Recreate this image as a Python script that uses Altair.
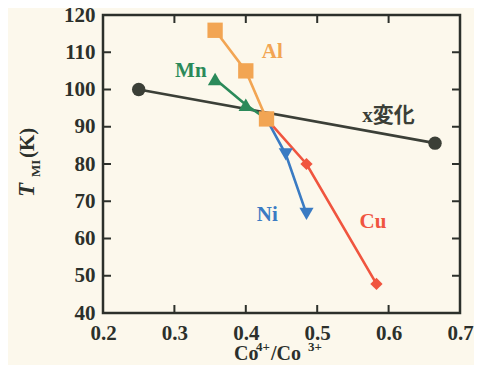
import altair as alt
import pandas as pd

# ---- data ----
series = ["x変化", "Mn", "Ni", "Cu", "Al"]
colors = ["#3b3f37", "#2b8a5a", "#3a7bc3", "#f0553f", "#f2a553"]
shapes = ["circle", "triangle-up", "triangle-down", "diamond", "square"]
sizes = [180, 210, 200, 150, 235]

x_xvar = [0.25, 0.665]
y_xvar = [100.0, 85.6]
x_mn = [0.357, 0.400, 0.429]
y_mn = [102.8, 95.9, 92.1]
x_ni = [0.429, 0.456, 0.485]
y_ni = [92.1, 82.6, 66.6]
x_cu = [0.429, 0.485, 0.583]
y_cu = [92.1, 80.0, 47.8]
x_al = [0.357, 0.400, 0.429]
y_al = [115.9, 105.0, 92.1]

label_text = ["x変化", "Mn", "Ni", "Cu", "Al"]
label_x = [0.600, 0.323, 0.430, 0.578, 0.437]
label_y = [93.0, 105.0, 66.4, 64.5, 110.0]

x_ticks = [0.2, 0.3, 0.4, 0.5, 0.6, 0.7]
y_ticks = [40, 50, 60, 70, 80, 90, 100, 110, 120]
x_inner_ticks = [0.3, 0.4, 0.5, 0.6]
y_inner_ticks = [50, 60, 70, 80, 90, 100, 110]

W, H = 357, 298
BG = "#fcf8ec"
INK = "#2c302b"
FONT = "Liberation Serif"

xs = {"x変化": x_xvar, "Mn": x_mn, "Ni": x_ni, "Cu": x_cu, "Al": x_al}
ys = {"x変化": y_xvar, "Mn": y_mn, "Ni": y_ni, "Cu": y_cu, "Al": y_al}

x_scale = alt.Scale(domain=[0.2, 0.7], nice=False, zero=False)
y_scale = alt.Scale(domain=[40, 120], nice=False, zero=False)

x_axis = alt.Axis(values=x_ticks, format=".1f", title=None, grid=False, domain=False,
                  ticks=False, labelFont=FONT, labelFontWeight="bold", labelFontSize=21,
                  labelColor=INK, labelPadding=9, labelFlush=False, labelOverlap=False)
y_axis = alt.Axis(values=y_ticks, format="d", title=None, grid=False, domain=False,
                  ticks=False, labelFont=FONT, labelFontWeight="bold", labelFontSize=21,
                  labelColor=INK, labelPadding=8, labelFlush=False, labelOverlap=False)


def X(field="x"):
    return alt.X(f"{field}:Q", scale=x_scale, axis=x_axis)


def Y(field="y"):
    return alt.Y(f"{field}:Q", scale=y_scale, axis=y_axis)


layers = []
for s, c in zip(series, colors):
    d = pd.DataFrame({"x": xs[s], "y": ys[s]})
    layers.append(alt.Chart(d).mark_line(color=c, strokeWidth=2.6).encode(x=X(), y=Y()))
for s, c, sh, sz in zip(series, colors, shapes, sizes):
    d = pd.DataFrame({"x": xs[s], "y": ys[s]})
    layers.append(alt.Chart(d).mark_point(color=c, fill=c, filled=True, opacity=1,
                                          shape=sh, size=sz).encode(x=X(), y=Y()))

# series labels
for t, lx, ly, c in zip(label_text, label_x, label_y, colors):
    d = pd.DataFrame({"x": [lx], "y": [ly], "t": [t]})
    layers.append(alt.Chart(d).mark_text(font=f"{FONT}, Noto Sans CJK JP", fontWeight="bold",
                                         fontSize=21, color=c, align="center",
                                         baseline="middle").encode(x=X(), y=Y(), text="t:N"))

# inward ticks
TL = 8
dxt = pd.DataFrame({"x": x_inner_ticks})
dyt = pd.DataFrame({"y": y_inner_ticks})
layers.append(alt.Chart(dxt).mark_rule(color=INK, strokeWidth=2).encode(
    x=X(), y=alt.value(0), y2=alt.value(TL)))
layers.append(alt.Chart(dxt).mark_rule(color=INK, strokeWidth=2).encode(
    x=X(), y=alt.value(H - TL), y2=alt.value(H)))
layers.append(alt.Chart(dyt).mark_rule(color=INK, strokeWidth=2).encode(
    y=Y(), x=alt.value(0), x2=alt.value(TL)))
layers.append(alt.Chart(dyt).mark_rule(color=INK, strokeWidth=2).encode(
    y=Y(), x=alt.value(W - TL), x2=alt.value(W)))

# x-axis title: Co4+/Co3+
xt_parts = ["Co", "4+", "/Co", "3+"]
xt_px = [131, 153, 168, 205]
xt_py = [345, 336, 345, 336]
xt_fs = [20, 13, 20, 13]
for t, px, py, fs in zip(xt_parts, xt_px, xt_py, xt_fs):
    d = pd.DataFrame({"t": [t]})
    layers.append(alt.Chart(d).mark_text(font=FONT, fontWeight="bold", fontSize=fs, color=INK,
                                         align="left", baseline="alphabetic").encode(
        x=alt.value(px), y=alt.value(py), text="t:N"))

# y-axis title: T_MI(K), rotated
yt_parts = ["T", "MI", "(K)"]
yt_px = [-69, -63, -69]
yt_py = [182, 162, 143]
yt_fs = [23, 13, 21]
yt_style = ["italic", "normal", "normal"]
for t, px, py, fs, st in zip(yt_parts, yt_px, yt_py, yt_fs, yt_style):
    d = pd.DataFrame({"t": [t]})
    layers.append(alt.Chart(d).mark_text(font=FONT, fontWeight="bold", fontSize=fs, color=INK,
                                         fontStyle=st, angle=270, align="left",
                                         baseline="alphabetic").encode(
        x=alt.value(px), y=alt.value(py), text="t:N"))

chart = alt.layer(*layers).properties(
    width=W, height=H,
    padding={"left": 95, "top": 7, "right": 14, "bottom": 52},
    autosize=alt.AutoSizeParams(type="none"),
    background=BG,
).configure_view(stroke=INK, strokeWidth=2.5)

chart.save("out.html", embed_options={"renderer": "svg", "actions": False})
